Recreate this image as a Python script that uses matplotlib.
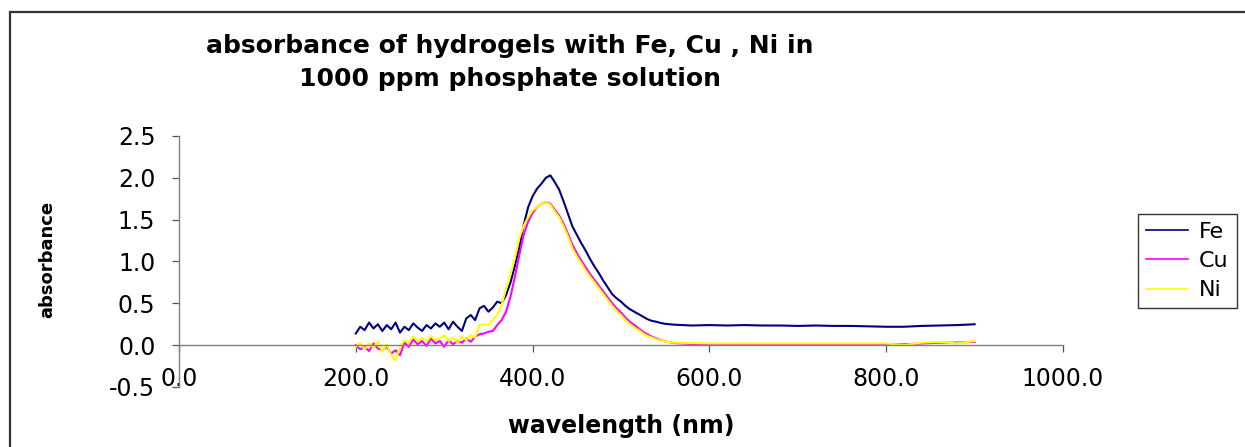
import matplotlib
matplotlib.use('Agg')
import matplotlib.pyplot as plt
from matplotlib.patches import Rectangle

# Absorbance spectra of hydrogels loaded with Fe, Cu and Ni
wavelength = [200, 205, 210, 215, 220, 225, 230, 235, 240, 245,
              250, 255, 260, 265, 270, 275, 280, 285, 290, 295,
              300, 305, 310, 315, 320, 325, 330, 335, 340, 345,
              350, 355, 360, 365, 370, 375, 380, 385, 390, 395,
              400, 405, 410, 415, 420, 425, 430, 435, 440, 445,
              450, 455, 460, 465, 470, 475, 480, 485, 490, 495,
              500, 505, 510, 515, 520, 525, 530, 535, 540, 545,
              550, 555, 560, 580, 600, 620, 640, 660, 680, 700,
              720, 740, 760, 780, 800, 820, 840, 860, 880, 900]

fe = [0.14, 0.22, 0.18, 0.27, 0.20, 0.25, 0.17, 0.24, 0.19, 0.27,
      0.15, 0.22, 0.18, 0.26, 0.21, 0.17, 0.24, 0.20, 0.26, 0.22,
      0.27, 0.19, 0.28, 0.22, 0.17, 0.32, 0.36, 0.30, 0.44, 0.47,
      0.40, 0.45, 0.52, 0.50, 0.60, 0.75, 0.95, 1.17, 1.44, 1.65,
      1.78, 1.87, 1.93, 2.00, 2.03, 1.95, 1.86, 1.72, 1.57, 1.42,
      1.32, 1.22, 1.13, 1.03, 0.94, 0.86, 0.77, 0.69, 0.61, 0.56,
      0.52, 0.47, 0.43, 0.40, 0.37, 0.34, 0.31, 0.29, 0.28, 0.265,
      0.255, 0.25, 0.245, 0.235, 0.24, 0.235, 0.24, 0.235, 0.235, 0.23,
      0.235, 0.23, 0.23, 0.225, 0.22, 0.22, 0.23, 0.235, 0.24, 0.25]

cu = [0.00, -0.05, -0.02, -0.07, 0.02, -0.04, -0.06, -0.02, -0.10, -0.06,
      -0.12, 0.03, -0.02, 0.07, 0.01, 0.05, -0.01, 0.08, 0.02, 0.05,
      -0.02, 0.06, 0.01, 0.05, 0.03, 0.08, 0.04, 0.10, 0.13, 0.14,
      0.16, 0.17, 0.24, 0.30, 0.40, 0.58, 0.82, 1.08, 1.32, 1.48,
      1.58, 1.65, 1.69, 1.71, 1.69, 1.62, 1.55, 1.45, 1.33, 1.20,
      1.10, 1.01, 0.93, 0.85, 0.78, 0.71, 0.64, 0.57, 0.50, 0.44,
      0.39, 0.33, 0.28, 0.24, 0.20, 0.16, 0.13, 0.10, 0.08, 0.06,
      0.045, 0.035, 0.025, 0.015, 0.012, 0.012, 0.01, 0.01, 0.01, 0.01,
      0.01, 0.01, 0.01, 0.01, 0.01, 0.01, 0.02, 0.03, 0.03, 0.04]

ni = [-0.02, 0.03, -0.05, 0.02, -0.03, 0.05, -0.08, 0.01, -0.12, -0.18,
      -0.02, 0.06, 0.03, 0.10, 0.05, 0.09, 0.04, 0.11, 0.06, 0.08,
      0.12, 0.05, 0.09, 0.03, 0.10, 0.06, 0.12, 0.09, 0.24, 0.25,
      0.24, 0.30, 0.36, 0.48, 0.68, 0.85, 1.05, 1.28, 1.43, 1.53,
      1.61, 1.65, 1.69, 1.71, 1.68, 1.60, 1.53, 1.42, 1.30, 1.16,
      1.06, 0.98, 0.89, 0.82, 0.75, 0.68, 0.61, 0.54, 0.47, 0.41,
      0.36, 0.30, 0.25, 0.21, 0.18, 0.14, 0.11, 0.09, 0.07, 0.055,
      0.045, 0.035, 0.03, 0.025, 0.02, 0.02, 0.02, 0.02, 0.02, 0.02,
      0.02, 0.02, 0.02, 0.02, 0.02, 0.00, 0.03, 0.04, 0.02, 0.05]

series = [('Fe', fe, '#000080'), ('Cu', cu, '#FF00FF'), ('Ni', ni, '#FFFF00')]
xticks = [0, 200, 400, 600, 800, 1000]
yticks = [-0.5, 0.0, 0.5, 1.0, 1.5, 2.0, 2.5]

W, H = 1245, 447
fig = plt.figure(figsize=(W / 100, H / 100), dpi=100)
ax = fig.add_axes([179 / W, 1 - 387 / H, (1063 - 179) / W, (387 - 136) / H])

for name, vals, col in series:
    ax.plot(wavelength, vals, color=col, lw=1.5, label=name)

ax.set_xlim(0, 1000)
ax.set_ylim(-0.5, 2.5)
ax.set_xticks(xticks)
ax.set_yticks(yticks)
ax.set_xticklabels(['%.1f' % v for v in xticks])
ax.set_yticklabels(['%.1f' % v for v in yticks])

# x axis crosses at zero absorbance
ax.spines['bottom'].set_position(('data', 0))
for side in ['top', 'right']:
    ax.spines[side].set_visible(False)
for side in ['left', 'bottom']:
    ax.spines[side].set_color('#808080')
    ax.spines[side].set_linewidth(1.0)
ax.tick_params(direction='out', length=5, width=0.9, color='#555555',
               labelsize=17)
ax.tick_params(axis='x', pad=11)
ax.tick_params(axis='y', pad=12)

# Titles
fig.text(510 / W, 1 - 53 / H, 'absorbance of hydrogels with Fe, Cu , Ni in',
         ha='center', va='baseline', fontsize=18, fontweight='bold')
fig.text(510 / W, 1 - 86 / H, '1000 ppm phosphate solution',
         ha='center', va='baseline', fontsize=18, fontweight='bold')
fig.text(621 / W, 1 - 433 / H, 'wavelength (nm)', ha='center', va='baseline',
         fontsize=17, fontweight='bold')
fig.text(47 / W, 1 - 259 / H, 'absorbance', rotation=90, ha='center',
         va='center', fontsize=13, fontweight='bold')

leg = fig.legend(loc='upper left', bbox_to_anchor=(1138 / W, 1 - 214 / H),
                 fontsize=16, frameon=True, fancybox=False, borderpad=0.35,
                 labelspacing=0.42, handlelength=1.9, handletextpad=0.5,
                 borderaxespad=0)
leg.get_frame().set_edgecolor('black')
leg.get_frame().set_linewidth(1.0)
for line in leg.get_lines():
    line.set_linewidth(1.2)

# Chart border
fig.patches.append(Rectangle((10 / W, -0.1), 1.2, (1 - 12 / H) + 0.1,
                             transform=fig.transFigure, fill=False,
                             lw=1.6, ec='#333333'))

plt.savefig('out.png', dpi=100)
